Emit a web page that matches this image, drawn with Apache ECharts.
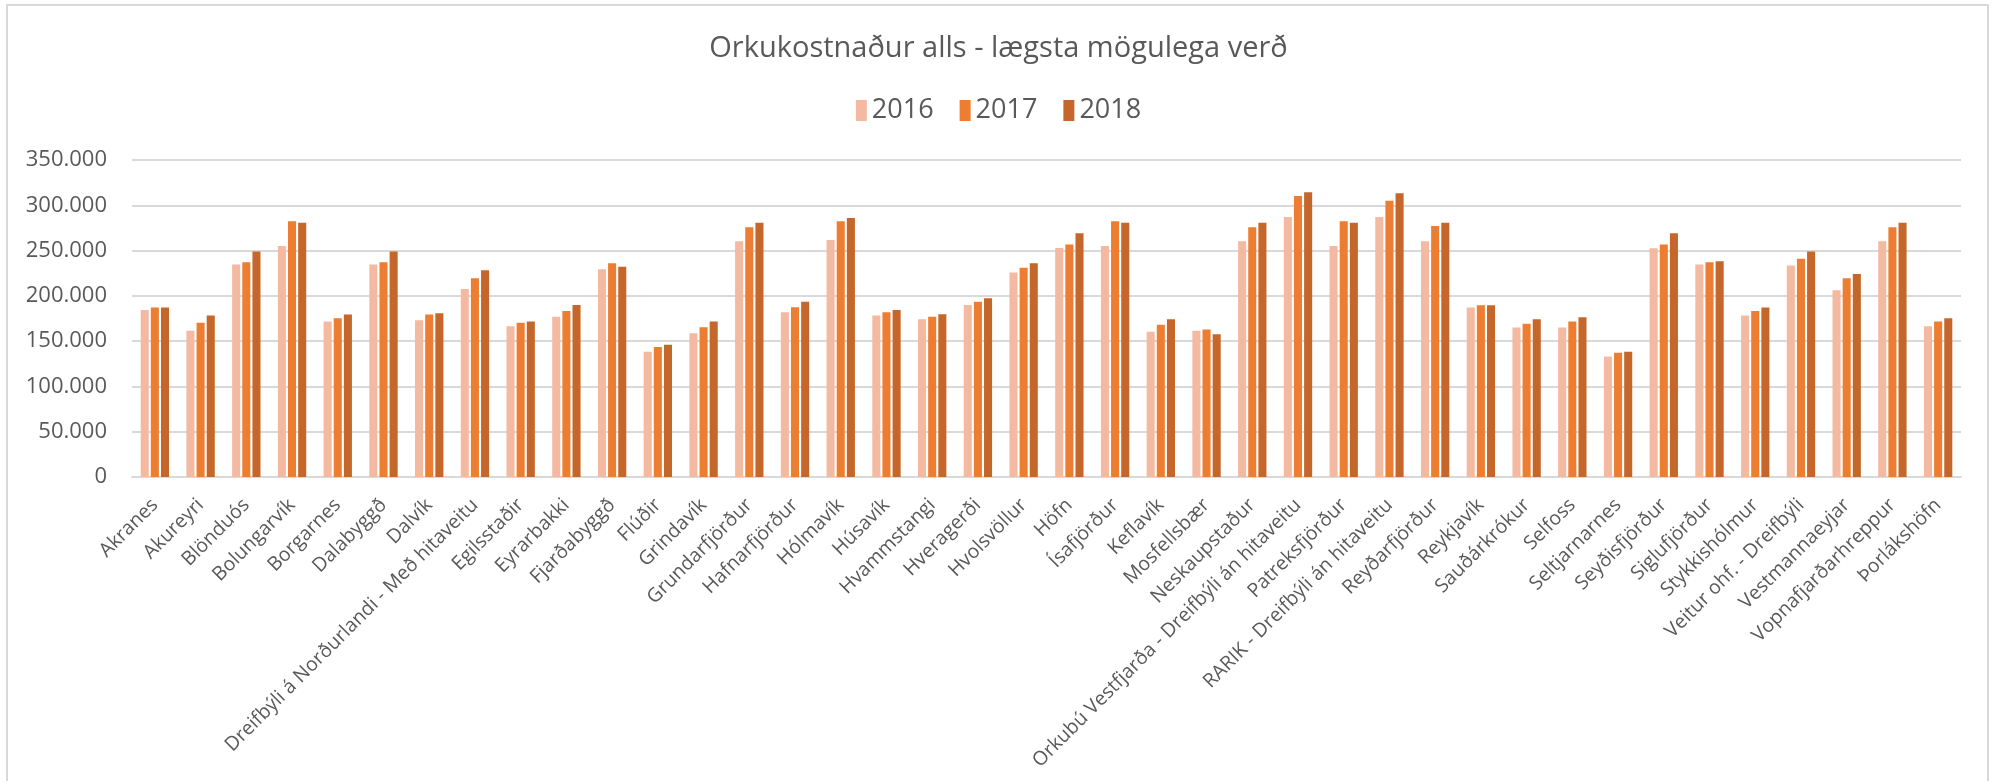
<!DOCTYPE html>
<html>
<head>
<meta charset="utf-8">
<script src="https://cdn.jsdelivr.net/npm/echarts@6/dist/echarts.min.js"></script>
<style>
  html, body { margin: 0; padding: 0; background: #fff; }
  #chart { width: 1997px; height: 781px; }
</style>
</head>
<body>
<div id="chart"></div>
<script>
var categories = ['Akranes', 'Akureyri', 'Blönduós', 'Bolungarvík', 'Borgarnes', 'Dalabyggð', 'Dalvík',
  'Dreifbýli á Norðurlandi - Með hitaveitu', 'Egilsstaðir', 'Eyrarbakki', 'Fjarðabyggð', 'Flúðir', 'Grindavík',
  'Grundarfjörður', 'Hafnarfjörður', 'Hólmavík', 'Húsavík', 'Hvammstangi', 'Hveragerði', 'Hvolsvöllur', 'Höfn',
  'Ísafjörður', 'Keflavík', 'Mosfellsbær', 'Neskaupstaður', 'Orkubú Vestfjarða - Dreifbýli án hitaveitu',
  'Patreksfjörður', 'RARIK - Dreifbýli án hitaveitu', 'Reyðarfjörður', 'Reykjavík', 'Sauðárkrókur', 'Selfoss',
  'Seltjarnarnes', 'Seyðisfjörður', 'Siglufjörður', 'Stykkishólmur', 'Veitur ohf. - Dreifbýli', 'Vestmannaeyjar',
  'Vopnafjarðarhreppur', 'Þorlákshöfn'];

var values2016 = [184500, 161400, 234500, 255100, 171700, 234500, 173100, 207700, 166500, 176800, 229400, 138200,
  158800, 260300, 182000, 261700, 178300, 174200, 190000, 225700, 252900, 255100, 160300, 161400, 260300, 287100,
  255100, 287100, 260300, 187100, 165000, 165000, 133100, 252500, 234500, 178300, 233400, 206200, 260300, 166500];

var values2017 = [187100, 170200, 237100, 282300, 175300, 237100, 179400, 219500, 170200, 183400, 236000, 143400,
  165400, 275700, 187500, 282300, 182000, 176800, 193400, 230900, 256600, 282300, 168000, 162800, 275700, 310300,
  282300, 305100, 277200, 189700, 169100, 171700, 137100, 256600, 237100, 183400, 241100, 219500, 275700, 171700];

var values2018 = [187100, 178300, 248900, 280800, 179400, 248900, 180900, 228300, 171700, 190000, 232000, 145900,
  171700, 280800, 193400, 286000, 184500, 179800, 197400, 236000, 269100, 280800, 174200, 157700, 280800, 314300,
  280800, 313200, 280800, 189700, 174200, 176400, 138200, 269100, 238200, 187100, 248900, 224200, 280800, 175300];

var years = ['2016', '2017', '2018'];
var colors = ['#F4B9A1', '#ED7D31', '#C5672A'];

var chart = echarts.init(document.getElementById('chart'));

function fmt(v) {
  return String(v).replace(/\B(?=(\d{3})+(?!\d))/g, '.');
}

function bar(name, data) {
  return {
    name: name,
    type: 'bar',
    data: data,
    barGap: '26%',
    barCategoryGap: '38%'
  };
}

chart.setOption({
  animation: false,
  color: colors,
  textStyle: { fontFamily: 'Open Sans' },
  title: {
    text: 'Orkukostnaður alls - lægsta mögulega verð',
    left: 'center',
    top: 29,
    textStyle: { fontSize: 29, fontWeight: 'normal', color: '#595959', fontFamily: 'Open Sans' }
  },
  legend: {
    data: years,
    top: 92,
    left: 'center',
    itemWidth: 11,
    itemHeight: 21,
    itemGap: 26,
    icon: 'rect',
    textStyle: { fontSize: 27, color: '#595959' }
  },
  graphic: [{
    type: 'rect',
    shape: { x: 7, y: 5, width: 1981, height: 800 },
    style: { fill: 'none', stroke: '#d9d9d9', lineWidth: 2 },
    silent: true
  }],
  grid: { left: 132, right: 36, top: 160, bottom: 304 },
  xAxis: {
    type: 'category',
    data: categories,
    axisLine: { lineStyle: { color: '#d9d9d9', width: 2 } },
    axisTick: { show: false },
    axisLabel: {
      rotate: 45,
      interval: 0,
      margin: 25,
      fontSize: 19.5,
      color: '#595959'
    }
  },
  yAxis: {
    type: 'value',
    min: 0,
    max: 350000,
    interval: 50000,
    axisLine: { show: false },
    axisTick: { show: false },
    splitLine: { lineStyle: { color: '#d9d9d9', width: 2 } },
    axisLabel: {
      fontSize: 22,
      color: '#595959',
      margin: 25,
      formatter: fmt
    }
  },
  series: [bar('2016', values2016), bar('2017', values2017), bar('2018', values2018)]
});
</script>
</body>
</html>
